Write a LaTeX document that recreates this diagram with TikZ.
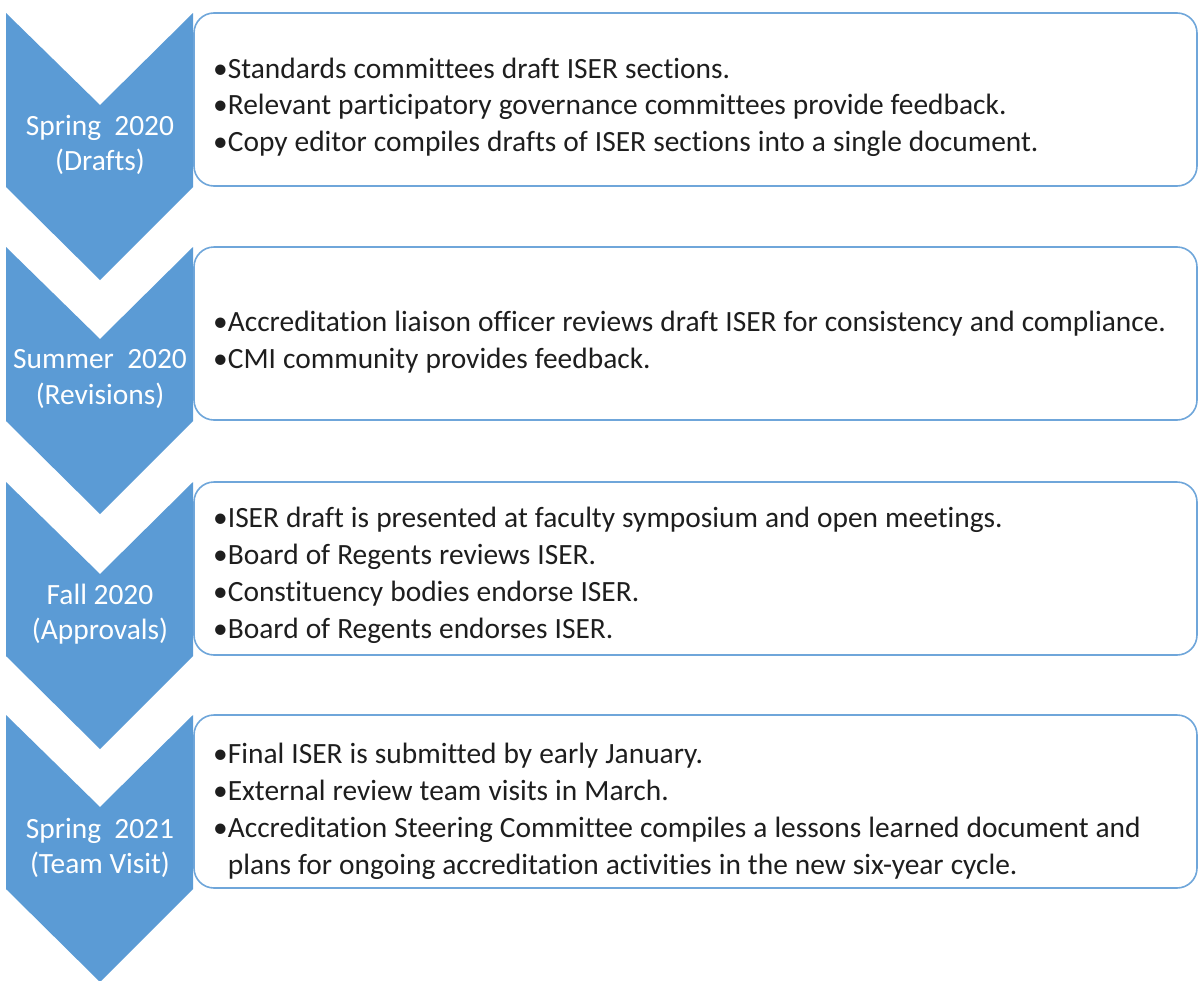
\documentclass[tikz,border=0pt]{standalone}
\usepackage{fontspec}
\setmainfont{Carlito}[Ligatures={NoCommon,NoRequired,NoContextual}]
\definecolor{chev}{HTML}{5B9BD5}
\definecolor{boxline}{HTML}{6FA6DA}
\definecolor{txt}{HTML}{1E1E1E}
\newcommand\itm[1]{\par\spaceskip=0.24em plus 0.1em minus 0.05em\xspaceskip=0.26em\rightskip=0pt plus 1fil\relax
  \setbox0\hbox{•}\hangindent=\wd0\hangafter=1\noindent\box0 #1\par}
\newcommand\itemfont{\fontsize{29.4}{36.8}\selectfont\hyphenpenalty=10000\relax}
\newcommand\labfont{\fontsize{29.4}{35.5}\selectfont}
\tikzset{
  chevshape/.style={fill=chev,draw=none},
  stagebox/.style={draw=boxline,line width=1.6pt,rounded corners=20pt,fill=white},
  items/.style={anchor=west,inner sep=0pt,text width=980pt,align=left,text=txt,font=\itemfont},
  stagelabel/.style={inner sep=0pt,align=center,text=white,font=\labfont}
}
\begin{document}
\begin{tikzpicture}[x=1pt,y=-1pt]
\useasboundingbox (0,0) rectangle (1199,980);
\foreach \T/\nm in {13/a,247/b,482/c,715/d}{
  \draw[stagebox] (1197,\T+86) -- (1197,\T) -- (194,\T) -- (194,\T+173) -- (1197,\T+173) -- cycle;
  \fill[chevshape] (6,\T) -- (100,\T+92) -- (193,\T) -- (193,\T+174) -- (100,\T+267) -- (6,\T+174) -- cycle;
}
\node[stagelabel] (la) at (100,145) {Spring\ \ 2020\\(Drafts)};
\node[stagelabel] (lb) at (100,379) {Summer\ \ 2020\\(Revisions)};
\node[stagelabel] (lc) at (100,614) {Fall 2020\\(Approvals)};
\node[stagelabel] (ld) at (100,848) {Spring\ \ 2021\\(Team Visit)};
\node[items] (ia) at (213,99) {\itm{Standards committees draft ISER sections.}\itm{Relevant participatory governance committees provide feedback.}\itm{Copy editor compiles drafts of ISER sections into a single document.}};
\node[items] (ib) at (213,334) {\itm{Accreditation liaison officer reviews draft ISER for consistency and compliance.}\itm{CMI community provides feedback.}};
\node[items] (ic) at (213,567) {\itm{ISER draft is presented at faculty symposium and open meetings.}\itm{Board of Regents reviews ISER.}\itm{Constituency bodies endorse ISER.}\itm{Board of Regents endorses ISER.}};
\node[items] (id) at (213,803) {\itm{Final ISER is submitted by early January.}\itm{External review team visits in March.}\itm{Accreditation Steering Committee compiles a lessons learned document and\newline plans for ongoing accreditation activities in the new six-year cycle.}};
\end{tikzpicture}
\end{document}
